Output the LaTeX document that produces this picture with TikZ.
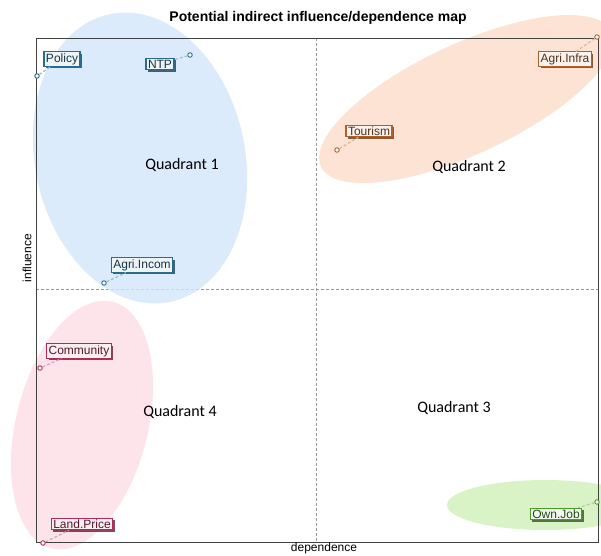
\documentclass[tikz,border=0pt]{standalone}
\usepackage{fontspec}
\setmainfont{Liberation Sans}
\newfontfamily\quadfont{Carlito}
\usetikzlibrary{shadows}

\definecolor{polblue}{HTML}{2A6C8C}
\definecolor{tourbrown}{HTML}{B0602A}
\definecolor{landred}{HTML}{B02C58}
\definecolor{jobgreen}{HTML}{4C9A26}
\definecolor{zoneblue}{HTML}{D3E6FA}
\definecolor{zoneorange}{HTML}{FBDCC8}
\definecolor{zonepink}{HTML}{FCDDE6}
\definecolor{zonegreen}{HTML}{CFF0B8}

\begin{document}
\begin{tikzpicture}[x=1pt, y=-1pt,
            zone/.style={fill=#1, fill opacity=0.8, draw=none},
            lbl/.style={rectangle, draw=#1, line width=1.1pt, fill=#1!8, text=#1!50!black, inner xsep=2pt, inner ysep=1.5pt, font=\fontsize{12}{14}\selectfont, drop shadow={fill=#1!60!black, shadow xshift=2pt, shadow yshift=-2pt, opacity=0.8}},
            pt/.style={circle, draw=#1, fill=white, line width=0.9pt, inner sep=0pt, minimum size=4.5pt},
            lnk/.style={densely dashed, line width=1.2pt, #1!45},
            quad/.style={font=\quadfont\fontsize{16}{18}\selectfont},
            divider/.style={densely dashed, gray!80, line width=0.6pt}
        ]
            \useasboundingbox (0,0) rectangle (601,555);
            \clip (0,0) rectangle (601,555);

            % dividers
            \draw[divider] (316,38) -- (316,542);
            \draw[divider] (36,289) -- (598,289);

            % zones
            \fill[zone=zoneblue] (140,158) ellipse [x radius=105, y radius=147, rotate=12];
            \fill[zone=zoneorange] (466,99) ellipse [x radius=160, y radius=55, rotate=25];
            \fill[zone=zonepink] (82,425) ellipse [x radius=66, y radius=127, rotate=-14];
            \fill[zone=zonegreen] (545,505) ellipse [x radius=98, y radius=25];

            % frame
            \draw[line width=1pt, black!75] (36,38) rectangle (598,542);

            \node[font=\bfseries\fontsize{14}{16}\selectfont] (title) at (318,18) {Potential indirect influence/dependence map};
            \node[font=\fontsize{12}{14}\selectfont] (xlab) at (324,548) {dependence};
            \node[font=\fontsize{12}{14}\selectfont, rotate=90] (ylab) at (27,258) {influence};

            \node[quad] (q1) at (182,165) {Quadrant 1};
            \node[quad] (q2) at (469,167) {Quadrant 2};
            \node[quad] (q3) at (454,408) {Quadrant 3};
            \node[quad] (q4) at (180,412) {Quadrant 4};

            % points
            \node[pt=polblue] (p-policy) at (37,76) {};
            \node[pt=polblue] (p-ntp) at (190,55) {};
            \node[pt=polblue] (p-income) at (104,283) {};
            \node[pt=tourbrown] (p-infra) at (597,37) {};
            \node[pt=tourbrown] (p-tourism) at (337,150) {};
            \node[pt=landred] (p-community) at (40,368) {};
            \node[pt=landred] (p-land) at (43,543) {};
            \node[pt=jobgreen] (p-job) at (597,502) {};

            % labels
            \node[lbl=polblue] (l-policy) at (62,59) {Policy};
            \node[lbl=polblue] (l-ntp) at (160,64) {NTP};
            \node[lbl=polblue] (l-income) at (142,265) {Agri.Incom};
            \node[lbl=tourbrown] (l-infra) at (565,59) {Agri.Infra};
            \node[lbl=tourbrown] (l-tourism) at (369,131) {Tourism};
            \node[lbl=landred] (l-community) at (79,351) {Community};
            \node[lbl=landred] (l-land) at (82,524) {Land.Price};
            \node[lbl=jobgreen] (l-job) at (556,514) {Own.Job};

            \draw[lnk=polblue] (p-policy) -- (l-policy);
            \draw[lnk=polblue] (p-ntp) -- (l-ntp);
            \draw[lnk=polblue] (p-income) -- (l-income);
            \draw[lnk=tourbrown] (p-infra) -- (l-infra);
            \draw[lnk=tourbrown] (p-tourism) -- (l-tourism);
            \draw[lnk=landred] (p-community) -- (l-community);
            \draw[lnk=landred] (p-land) -- (l-land);
            \draw[lnk=jobgreen] (p-job) -- (l-job);
        \end{tikzpicture}
\end{document}
